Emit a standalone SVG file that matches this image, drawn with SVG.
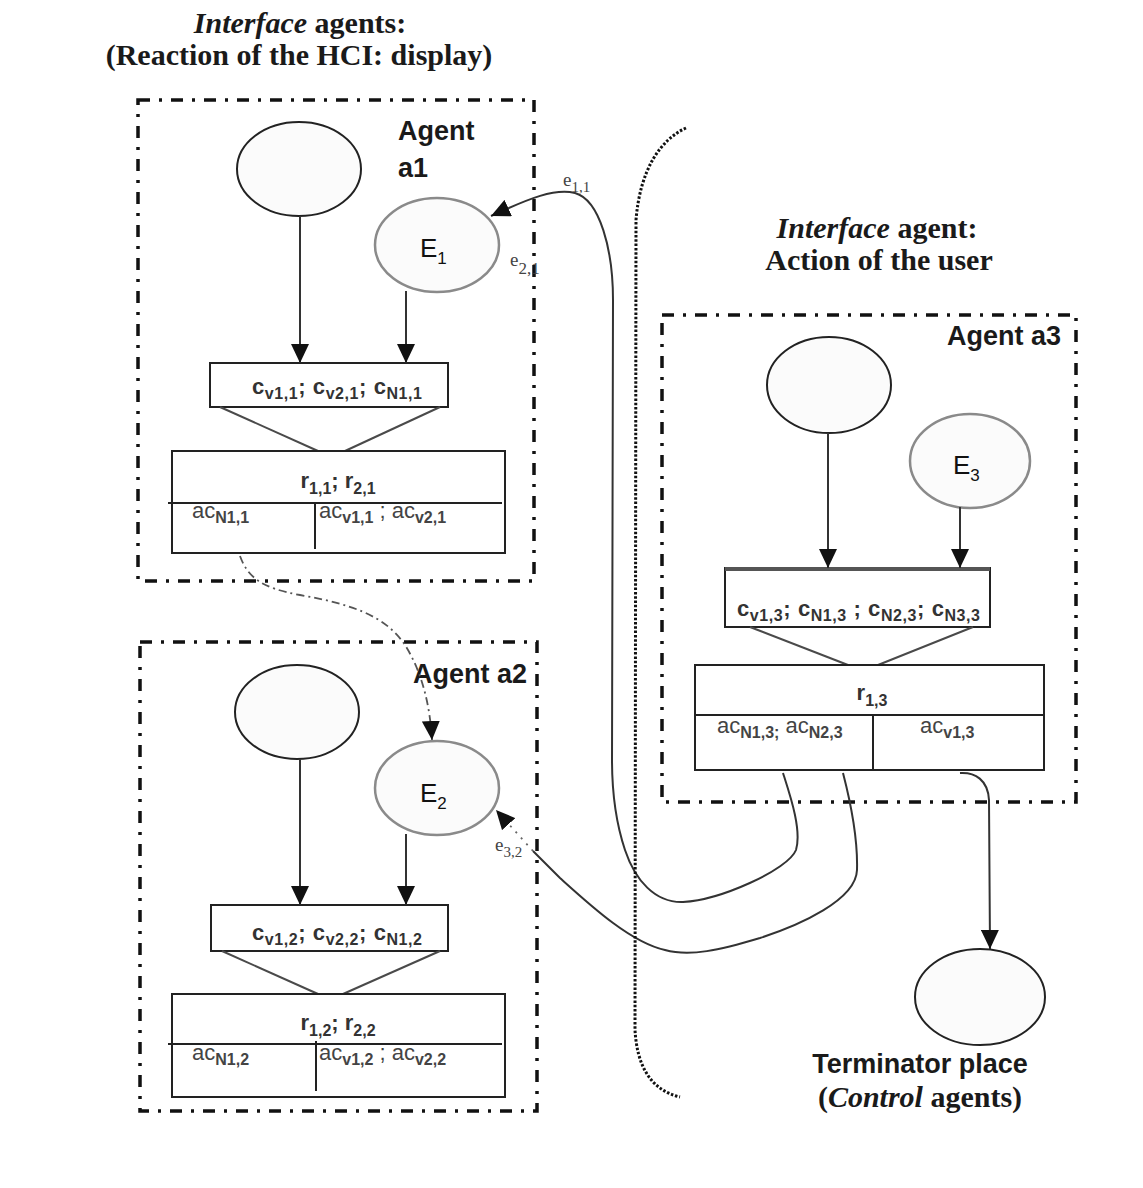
<svg xmlns="http://www.w3.org/2000/svg" width="1143" height="1188" viewBox="0 0 1143 1188">
  <defs>
    <style>
      .agent-box { fill: none; stroke: #111; stroke-width: 3.5; stroke-dasharray: 12 9 3 9; }
      .place { fill: #fbfbfb; stroke: #222; stroke-width: 2; }
      .place-e { fill: #fbfbfb; stroke: #8a8a8a; stroke-width: 2.5; }
      .trans { fill: #fff; stroke: #222; stroke-width: 2; }
      .split { stroke: #222; stroke-width: 2; }
      .funnel { stroke: #4a4a4a; stroke-width: 2; }
      .flow { fill: none; stroke: #333; stroke-width: 2; }
      .flow-dashdot { fill: none; stroke: #555; stroke-width: 1.8; stroke-dasharray: 8 4 2 4; }
      .flow-dot { fill: none; stroke: #111; stroke-width: 3; stroke-dasharray: 2.5 1.8; }
      .title { font-family: "Liberation Serif", "Times New Roman", serif; font-weight: bold; font-size: 30px; fill: #1a1a1a; }
      .agent { font-family: "Liberation Sans", Arial, sans-serif; font-weight: bold; font-size: 27px; fill: #1a1a1a; }
      .cond { font-family: "Liberation Sans", Arial, sans-serif; font-weight: bold; font-size: 22px; fill: #333; }
      .act { font-family: "Liberation Sans", Arial, sans-serif; font-size: 22px; fill: #444; }
      .sub { font-size: 16px; font-weight: bold; }
      .ename { font-family: "Liberation Sans", Arial, sans-serif; font-size: 26px; fill: #111; }
      .elabel { font-family: "Liberation Serif", "Times New Roman", serif; font-size: 19px; fill: #444; }
    </style>
    <marker id="arrow" markerUnits="userSpaceOnUse" markerWidth="19" markerHeight="18" viewBox="0 0 19 18" refX="19" refY="9" orient="auto">
      <path d="M0,0 L19,9 L0,18 Z" fill="#111"/>
    </marker>
  </defs>

  <rect width="1143" height="1188" fill="#fff"/>

  <!-- headings -->
  <g id="heading-display">
    <text class="title" x="300" y="33" text-anchor="middle"><tspan font-style="italic">Interface</tspan> agents:</text>
    <text class="title" x="299" y="65" text-anchor="middle">(Reaction of the HCI: display)</text>
  </g>
  <g id="heading-user">
    <text class="title" x="877" y="238" text-anchor="middle"><tspan font-style="italic">Interface</tspan> agent:</text>
    <text class="title" x="879" y="270" text-anchor="middle">Action of the user</text>
  </g>

  <!-- Agent a1 -->
  <g id="agent-a1">
    <rect class="agent-box" x="138" y="100" width="396" height="481"/>
    <text class="agent" x="398" y="140">Agent</text>
    <text class="agent" x="398" y="177">a1</text>
    <ellipse class="place" cx="299" cy="169" rx="62" ry="47"/>
    <ellipse class="place-e" cx="437" cy="245" rx="62" ry="47"/>
    <text class="ename" x="420" y="257">E<tspan dy="7" font-size="17">1</tspan></text>
    <rect class="trans" x="210" y="363" width="238" height="44"/>
    <text class="cond" x="252" y="394" textLength="170">c<tspan class="sub" dy="5">v1,1</tspan><tspan dy="-5">; c</tspan><tspan class="sub" dy="5">v2,1</tspan><tspan dy="-5">; c</tspan><tspan class="sub" dy="5">N1,1</tspan></text>
    <line class="funnel" x1="220" y1="407" x2="318" y2="451"/>
    <line class="funnel" x1="440" y1="407" x2="345" y2="451"/>
    <rect class="trans" x="172" y="451" width="333" height="102"/>
    <line class="split" x1="168" y1="503" x2="502" y2="503"/>
    <line class="split" x1="315" y1="503" x2="315" y2="549"/>
    <text class="cond" x="338" y="488" text-anchor="middle">r<tspan class="sub" dy="6">1,1</tspan><tspan dy="-6">; r</tspan><tspan class="sub" dy="6">2,1</tspan></text>
    <text class="act" x="192" y="518">ac<tspan class="sub" dy="5">N1,1</tspan></text>
    <text class="act" x="319" y="518">ac<tspan class="sub" dy="5">v1,1</tspan><tspan dy="-5"> ; ac</tspan><tspan class="sub" dy="5">v2,1</tspan></text>
  </g>

  <!-- Agent a2 -->
  <g id="agent-a2">
    <rect class="agent-box" x="140" y="642" width="397" height="469"/>
    <text class="agent" x="413" y="683">Agent a2</text>
    <ellipse class="place" cx="297" cy="712" rx="62" ry="47"/>
    <ellipse class="place-e" cx="437" cy="788" rx="62" ry="47"/>
    <text class="ename" x="420" y="802">E<tspan dy="7" font-size="17">2</tspan></text>
    <rect class="trans" x="211" y="905" width="237" height="46"/>
    <text class="cond" x="252" y="940" textLength="170">c<tspan class="sub" dy="5">v1,2</tspan><tspan dy="-5">; c</tspan><tspan class="sub" dy="5">v2,2</tspan><tspan dy="-5">; c</tspan><tspan class="sub" dy="5">N1,2</tspan></text>
    <line class="funnel" x1="222" y1="951" x2="318" y2="994"/>
    <line class="funnel" x1="440" y1="951" x2="343" y2="994"/>
    <rect class="trans" x="172" y="994" width="333" height="103"/>
    <line class="split" x1="168" y1="1044" x2="502" y2="1044"/>
    <line class="split" x1="316" y1="1041" x2="316" y2="1091"/>
    <text class="cond" x="338" y="1030" text-anchor="middle">r<tspan class="sub" dy="6">1,2</tspan><tspan dy="-6">; r</tspan><tspan class="sub" dy="6">2,2</tspan></text>
    <text class="act" x="192" y="1060">ac<tspan class="sub" dy="5">N1,2</tspan></text>
    <text class="act" x="319" y="1060">ac<tspan class="sub" dy="5">v1,2</tspan><tspan dy="-5"> ; ac</tspan><tspan class="sub" dy="5">v2,2</tspan></text>
  </g>

  <!-- Agent a3 -->
  <g id="agent-a3">
    <rect class="agent-box" x="662" y="315" width="414" height="487"/>
    <text class="agent" x="947" y="345">Agent a3</text>
    <ellipse class="place" cx="829" cy="385" rx="62" ry="48"/>
    <ellipse class="place-e" cx="970" cy="461" rx="60" ry="47"/>
    <text class="ename" x="953" y="474">E<tspan dy="7" font-size="17">3</tspan></text>
    <rect class="trans" x="725" y="568" width="265" height="59"/>
    <line x1="725" y1="569" x2="990" y2="569" stroke="#555" stroke-width="4"/>
    <text class="cond" x="737" y="616" textLength="243">c<tspan class="sub" dy="5">v1,3</tspan><tspan dy="-5">; c</tspan><tspan class="sub" dy="5">N1,3</tspan><tspan dy="-5"> ; c</tspan><tspan class="sub" dy="5">N2,3</tspan><tspan dy="-5">; c</tspan><tspan class="sub" dy="5">N3,3</tspan></text>
    <line class="funnel" x1="750" y1="627" x2="848" y2="665"/>
    <line class="funnel" x1="973" y1="627" x2="878" y2="665"/>
    <rect class="trans" x="695" y="665" width="349" height="105"/>
    <line class="split" x1="695" y1="715" x2="1044" y2="715"/>
    <line class="split" x1="873" y1="715" x2="873" y2="770"/>
    <text class="cond" x="872" y="700" text-anchor="middle">r<tspan class="sub" dy="6">1,3</tspan></text>
    <text class="act" x="717" y="733">ac<tspan class="sub" dy="5">N1,3;</tspan><tspan dy="-5"> ac</tspan><tspan class="sub" dy="5">N2,3</tspan></text>
    <text class="act" x="920" y="733">ac<tspan class="sub" dy="5">v1,3</tspan></text>
  </g>

  <!-- Terminator place -->
  <g id="terminator">
    <ellipse class="place" cx="980" cy="997" rx="65" ry="48"/>
    <text class="agent" x="920" y="1073" text-anchor="middle">Terminator place</text>
    <text class="title" x="920" y="1107" text-anchor="middle">(<tspan font-style="italic">Control</tspan> agents)</text>
  </g>

  <!-- connectors -->
  <g id="connectors">
    <!-- places to transitions inside each agent -->
    <line class="flow" x1="300" y1="216" x2="300" y2="363" marker-end="url(#arrow)"/>
    <line class="flow" x1="406" y1="291" x2="406" y2="363" marker-end="url(#arrow)"/>
    <line class="flow" x1="300" y1="759" x2="300" y2="905" marker-end="url(#arrow)"/>
    <line class="flow" x1="406" y1="834" x2="406" y2="905" marker-end="url(#arrow)"/>
    <line class="flow" x1="828" y1="433" x2="828" y2="568" marker-end="url(#arrow)"/>
    <line class="flow" x1="960" y1="507" x2="960" y2="568" marker-end="url(#arrow)"/>

    <!-- a1 action to E2 -->
    <path class="flow-dashdot" d="M240,556 C248,578 262,588 300,595 C350,604 385,615 405,645 C422,672 430,705 432,740" marker-end="url(#arrow)"/>

    <!-- a3 action to E1 (e1,1) -->
    <path class="flow" d="M783,773 C790,795 802,830 796,850 C788,870 720,900 683,902 C655,903 635,880 625,850 C615,820 612,790 612,760 L613,300 C613,250 600,200 575,193 C555,188 530,198 491,216" marker-end="url(#arrow)"/>

    <!-- a3 action to E2 (e3,2) -->
    <path class="flow" d="M843,773 C850,800 858,835 857,870 C856,900 800,925 760,938 C720,950 690,957 665,950 C630,942 590,905 560,878 C548,866 540,858 533,851"/>
    <path d="M533,851 L496,810" fill="none" stroke="#666" stroke-width="1.8" stroke-dasharray="2 6" marker-end="url(#arrow)"/>

    <!-- a3 action to terminator -->
    <path class="flow" d="M960,773 C975,772 988,780 989,800 L990,949" marker-end="url(#arrow)"/>

    <!-- dotted separator -->
    <path class="flow-dot" d="M686,128 C660,140 640,170 636,220 L635,1030 C637,1065 650,1090 680,1097"/>

    <!-- arc labels -->
    <text class="elabel" x="563" y="186">e<tspan dy="6" font-size="15">1,1</tspan></text>
    <text class="elabel" x="510" y="266" font-size="15">e<tspan dy="8" font-size="17">2,1</tspan></text>
    <text class="elabel" x="495" y="851" font-size="15">e<tspan dy="6" font-size="15">3,2</tspan></text>
  </g>
</svg>
